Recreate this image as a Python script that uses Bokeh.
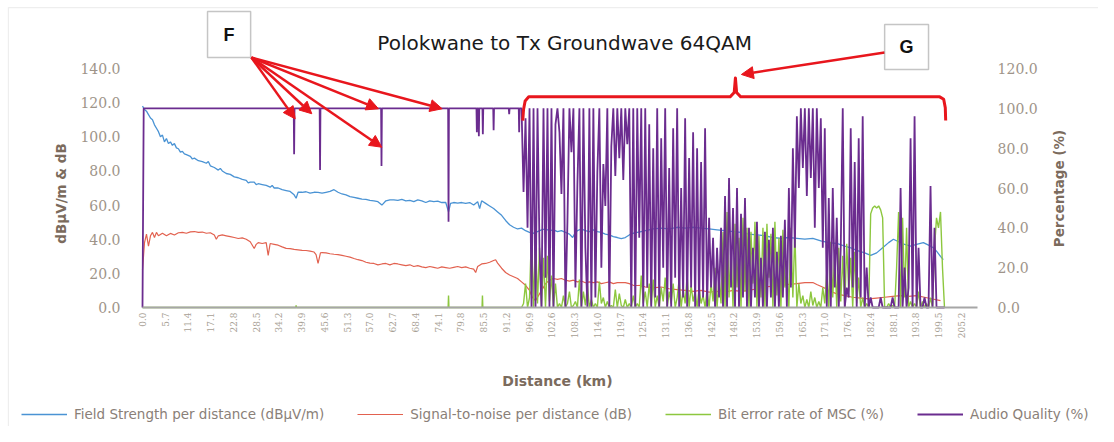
import math
from bokeh.plotting import figure
from bokeh.models import (Range1d, LinearAxis, FixedTicker, PrintfTickFormatter, Legend,
                          LegendItem, Label, Arrow, NormalHead, BoxAnnotation)
from bokeh.embed import file_html
from bokeh.resources import INLINE

# ---------------- data ----------------
X_TICKS = [0.0, 5.7, 11.4, 17.1, 22.8, 28.5, 34.2, 39.9, 45.6, 51.3, 57.0, 62.7, 68.4, 74.1,
           79.8, 85.5, 91.2, 96.9, 102.6, 108.3, 114.0, 119.7, 125.4, 131.1, 136.8, 142.5,
           148.2, 153.9, 159.6, 165.3, 171.0, 176.7, 182.4, 188.1, 193.8, 199.5, 205.2]
LEFT_TICKS = [0, 20, 40, 60, 80, 100, 120, 140]
RIGHT_TICKS = [0, 20, 40, 60, 80, 100, 120]

# Field strength (km, dBuV/m)
FIELD_STRENGTH = [
    (0, 118), (0.5, 116), (1, 115), (1.5, 113), (2, 111), (2.5, 110), (3, 107), (3.5, 105),
    (4, 103), (4.5, 100), (5, 101), (5.5, 97), (6, 99), (6.5, 96), (7, 97), (7.5, 95), (8, 96),
    (8.5, 93.5), (9, 93), (9.5, 91), (10, 91.5), (10.5, 90), (11, 89.5), (12, 88.5), (12.5, 87),
    (13, 87.5), (14, 86), (15, 85.5), (16, 84.5), (16.5, 85.5), (17, 83), (18, 82), (19, 80.5),
    (19.5, 81.5), (20, 80), (21, 78.5), (22, 78), (23, 76.5), (24, 76), (25, 75), (26, 74.5),
    (26.5, 73), (27, 73.5), (28, 73.5), (28.5, 72), (29, 72.5), (30, 72), (31, 71.5), (32, 70.5),
    (32.5, 71.5), (33, 70), (34, 70), (35, 69), (36, 68.5), (37, 68), (38, 66), (38.5, 64),
    (39, 67.5), (40, 67.5), (41, 67.8), (42, 67), (43, 67.5), (44, 67.4), (45, 67), (46, 67.5),
    (47, 68), (48, 69), (49, 67.5), (50, 66.5), (51, 66), (52, 65), (53, 64.5), (54, 64),
    (55, 63.5), (56, 63.3), (57, 62.7), (58, 62.5), (59, 62), (60, 60), (61, 62.5), (62, 63),
    (63, 63), (64, 62.8), (65, 63.3), (66, 62.5), (67, 62.8), (68, 62), (69, 63), (70, 62.5),
    (71, 61.5), (72, 62.5), (73, 62), (74, 62.3), (75, 61.5), (76, 61.5), (76.7, 56), (77.2, 61),
    (78, 61.5), (79, 61.2), (80, 61.5), (81, 61), (82, 61.5), (83, 60), (84, 62), (84.5, 58),
    (85, 62.5), (86, 61), (87, 59.5), (88, 58), (89, 56), (90, 54), (91, 51), (92, 48.5),
    (93, 47), (94, 46), (95, 46.5), (96, 45), (97, 44), (98, 43.5), (99, 44.5), (100, 45.5),
    (101, 46), (102, 45), (103, 45.5), (104, 44.5), (105, 45), (106, 44), (107, 43),
    (107.8, 41), (108.5, 44), (109, 45), (110, 46), (111, 45), (112, 44.5), (113, 45.5),
    (114, 44.5), (115, 44), (116, 43), (117, 42.5), (118, 41.5), (119, 41), (120, 40.4),
    (121, 41), (122, 42.5), (123, 43.5), (124, 44), (125, 44.5), (126, 45), (127, 45.5),
    (128, 46), (130, 46.5), (132, 46), (134, 47), (136, 46.5), (138, 47), (140, 46.5), (142, 46),
    (144, 45.5), (146, 45), (148, 44.5), (150, 44), (152, 43), (154, 42.5), (156, 42), (158, 41),
    (160, 40.5), (162, 41), (164, 40.5), (166, 40), (168, 40.5), (170, 39), (172, 38),
    (174, 37.5), (176, 36), (177.5, 35), (179, 33.5), (181, 32), (182.5, 30.5), (184, 32),
    (185.5, 35), (187, 38), (188.2, 40), (189.5, 38.5), (191, 37), (192.5, 36), (194, 37),
    (195.7, 38), (197, 36.5), (198.2, 35), (199, 33), (200, 30), (200.7, 28),
]

# Signal-to-noise (km, dB)
SIGNAL_TO_NOISE = [
    (0, 22), (0.5, 38), (1, 43), (1.5, 36), (2, 42), (2.5, 44), (3, 41), (3.5, 44), (4, 42),
    (5, 43.5), (6, 42), (7, 43.4), (8, 42.5), (9, 43.8), (10, 44), (11, 43.5), (12, 44.3),
    (13, 44.5), (14, 44), (15, 44.2), (16, 43.5), (17, 43.8), (18, 42.5), (18.5, 40), (19, 42),
    (20, 42.5), (21, 42), (22, 41.5), (23, 41), (24, 40.4), (25, 40.8), (26, 40), (27, 38.5),
    (28, 34.6), (28.5, 37), (29, 38), (30, 37.5), (31, 38), (31.5, 30.5), (32, 37.5), (33, 37),
    (34, 36.5), (35, 35.5), (36, 34.6), (37, 34.5), (38, 34), (39, 33.8), (40, 33.5),
    (41, 33.4), (42, 33), (43, 32.5), (43.5, 31), (44, 25.8), (44.6, 32), (45, 32.2), (46, 32),
    (47, 31.5), (48, 31.2), (49, 31), (50, 30.5), (51, 30), (52, 29.5), (53, 28.7), (54, 28),
    (55, 27.5), (56, 26.5), (57, 26), (58, 25.8), (59, 25), (60, 25.5), (61, 25.8), (62, 25),
    (63, 25.8), (64, 25.5), (65, 25), (66, 24.5), (67, 25), (68, 24), (69, 24.5), (70, 23.8),
    (71, 23.4), (72, 24), (73, 23.5), (74, 23), (75, 23.8), (76, 23.4), (77, 23), (78, 23.5),
    (79, 24), (80, 23.4), (81, 23.8), (82, 23), (83, 22.5), (83.5, 20.5), (84, 24), (85, 25.5),
    (86, 25.8), (87, 26.5), (88, 27.5), (88.5, 28), (89, 26), (90, 23), (91, 20.5), (92, 19),
    (93, 18), (94, 17), (95, 15), (96, 13), (97, 10), (97.7, 6), (98.5, 4), (99.5, 8),
    (100.3, 11), (101, 14), (102, 16), (103, 17), (104, 16.5), (105, 17), (106, 16),
    (107, 15.5), (108, 16), (109, 15), (110, 15.5), (111, 14.5), (112, 15), (113, 14.6),
    (114, 15), (115, 14), (116, 14.5), (117, 15), (118, 14), (119, 14.6), (120, 14.6),
    (121, 14.6), (122, 14), (123, 13), (124, 12.9), (125, 13), (126, 12), (128, 11.5),
    (130, 12), (132, 11), (134, 10.5), (136, 10), (138, 9.5), (140, 10), (142, 9), (144, 9.5),
    (146, 9), (148, 10), (150, 9.5), (152, 10), (154, 11), (156, 12), (158, 12.5), (160, 13),
    (162, 13.5), (164, 14), (166, 14.6), (168, 14.6), (169, 13.5), (170.7, 11.7), (172, 10),
    (174, 8), (176, 7), (178, 6), (180, 5.5), (182, 5), (184, 5.5), (186, 6), (188, 6.5),
    (190, 7), (192, 6.5), (194, 7), (196, 6), (198, 5), (200, 4),
]

# Audio quality (%) before the drop-out zone (km, %)
AUDIO_EARLY = [
    (0.0, 0), (0.3, 100), (37.9, 100), (38.0, 77), (38.1, 100), (44.4, 100), (44.5, 69),
    (44.6, 100), (59.8, 100), (59.9, 71), (60.0, 100), (76.6, 100), (76.7, 43), (76.8, 100),
    (83.7, 100), (83.8, 88), (83.9, 100), (84.2, 100), (84.3, 86), (84.4, 100), (85.2, 100),
    (85.3, 87), (85.4, 100), (87.9, 100), (88.0, 89), (88.1, 100), (91.8, 100), (91.9, 97),
    (92.0, 100), (94.3, 100), (94.4, 88), (94.5, 100),
]
# Bit error rate of MSC (%) before the drop-out zone (km, %)
BER_EARLY = [
    (0.0, 0), (38.4, 0), (38.5, 1), (38.6, 0), (76.6, 0), (76.7, 6), (76.8, 0), (85.1, 0),
    (85.2, 6), (85.3, 0), (94.5, 0),
]

# drop-out zone samples
DENSE_KM = [
    95.0, 95.5, 96.0, 96.5, 97.0, 97.5, 98.0, 98.5, 99.0, 99.5,
    100.0, 100.5, 101.0, 101.5, 102.0, 102.5, 103.0, 103.5, 104.0, 104.5,
    105.0, 105.5, 106.0, 106.5, 107.0, 107.5, 108.0, 108.5, 109.0, 109.5,
    110.0, 110.5, 111.0, 111.5, 112.0, 112.5, 113.0, 113.5, 114.0, 114.5,
    115.0, 115.5, 116.0, 116.5, 117.0, 117.5, 118.0, 118.5, 119.0, 119.5,
    120.0, 120.5, 121.0, 121.5, 122.0, 122.5, 123.0, 123.5, 124.0, 124.5,
    125.0, 125.5, 126.0, 126.5, 127.0, 127.5, 128.0, 128.5, 129.0, 129.5,
    130.0, 130.5, 131.0, 131.5, 132.0, 132.5, 133.0, 133.5, 134.0, 134.5,
    135.0, 135.5, 136.0, 136.5, 137.0, 137.5, 138.0, 138.5, 139.0, 139.5,
    140.0, 140.5, 141.0, 141.5, 142.0, 142.5, 143.0, 143.5, 144.0, 144.5,
    145.0, 145.5, 146.0, 146.5, 147.0, 147.5, 148.0, 148.5, 149.0, 149.5,
    150.0, 150.5, 151.0, 151.5, 152.0, 152.5, 153.0, 153.5, 154.0, 154.5,
    155.0, 155.5, 156.0, 156.5, 157.0, 157.5, 158.0, 158.5, 159.0, 159.5,
    160.0, 160.5, 161.0, 161.5, 162.0, 162.5, 163.0, 163.5, 164.0, 164.5,
    165.0, 165.5, 166.0, 166.5, 167.0, 167.5, 168.0, 168.5, 169.0, 169.5,
    170.0, 170.5, 171.0, 171.5, 172.0, 172.5, 173.0, 173.5, 174.0, 174.5,
    175.0, 175.5, 176.0, 176.5, 177.0, 177.5, 178.0, 178.5, 179.0, 179.5,
    180.0, 180.5, 181.0, 181.5, 182.0, 182.5, 183.0, 183.5, 184.0, 184.5,
    185.0, 185.5, 186.0, 186.5, 187.0, 187.5, 188.0, 188.5, 189.0, 189.5,
    190.0, 190.5, 191.0, 191.5, 192.0, 192.5, 193.0, 193.5, 194.0, 194.5,
    195.0, 195.5, 196.0, 196.5, 197.0, 197.5, 198.0, 198.5, 199.0, 199.5,
    200.0, 200.5, 201.0,
]
AUDIO_DENSE = [
    100, 58, 95, 40, 100, 0, 100, 0, 100, 30,
    0, 100, 15, 100, 0, 100, 0, 92, 100, 88,
    57, 100, 0, 43, 100, 78, 100, 10, 62, 100,
    0, 100, 30, 0, 100, 0, 100, 5, 68, 100,
    20, 72, 51, 100, 0, 81, 100, 66, 100, 75,
    100, 64, 100, 82, 100, 0, 100, 0, 100, 35,
    100, 0, 100, 10, 92, 0, 80, 5, 100, 0,
    85, 20, 100, 0, 70, 0, 90, 15, 100, 0,
    60, 5, 95, 0, 75, 10, 88, 0, 80, 0,
    73, 5, 90, 0, 45, 10, 35, 0, 30, 5,
    40, 0, 56, 0, 65, 10, 50, 0, 60, 0,
    47, 5, 55, 0, 40, 0, 30, 5, 43, 0,
    25, 0, 38, 0, 34, 5, 40, 0, 28, 0,
    36, 5, 44, 0, 60, 10, 80, 30, 96, 60,
    100, 70, 100, 56, 100, 65, 100, 40, 100, 60,
    95, 30, 90, 0, 55, 0, 60, 10, 45, 0,
    30, 100, 0, 10, 5, 90, 10, 73, 0, 85,
    5, 96, 0, 20, 0, 5, 0, 0, 0, 0,
    5, 0, 0, 0, 0, 0, 5, 0, 0, 0,
    60, 0, 20, 0, 10, 85, 0, 96, 0, 30,
    0, 0, 5, 0, 0, 61, 0, 40, 0, 0,
    0, 0, 0,
]
BER_DENSE = [
    0, 2, 12, 0, 5, 39, 0, 36, 2, 30,
    0, 25, 0, 26, 3, 16, 0, 12, 0, 2,
    0, 6, 0, 2, 8, 0, 1, 3, 0, 14,
    0, 8, 1, 11, 0, 4, 0, 2, 0, 13,
    2, 5, 0, 3, 0, 1, 0, 9, 0, 7,
    1, 0, 4, 0, 2, 0, 6, 0, 2, 0,
    16, 2, 8, 0, 12, 1, 14, 0, 6, 0,
    10, 3, 15, 0, 8, 2, 12, 0, 5, 14,
    0, 9, 2, 16, 0, 11, 3, 8, 0, 10,
    2, 6, 0, 9, 0, 12, 3, 20, 0, 15,
    2, 38, 0, 48, 5, 30, 0, 42, 10, 35,
    0, 45, 8, 40, 0, 38, 12, 43, 0, 36,
    5, 40, 0, 42, 15, 37, 0, 43, 6, 35,
    0, 39, 10, 20, 0, 40, 5, 38, 0, 12,
    2, 6, 0, 4, 0, 8, 1, 5, 0, 3,
    0, 10, 2, 18, 0, 33, 5, 28, 0, 30,
    3, 26, 0, 32, 8, 25, 0, 28, 2, 15,
    0, 5, 0, 2, 0, 47, 50, 51, 50, 51,
    49, 45, 0, 0, 2, 0, 1, 0, 20, 48,
    0, 45, 5, 40, 0, 3, 0, 2, 0, 8,
    0, 3, 0, 2, 0, 5, 0, 30, 45, 40,
    48, 20, 0,
]
assert len(DENSE_KM) == len(AUDIO_DENSE) == len(BER_DENSE), (len(DENSE_KM), len(AUDIO_DENSE), len(BER_DENSE))

FS_KM = [k for k, v in FIELD_STRENGTH]
FS_DB = [v for k, v in FIELD_STRENGTH]
SNR_KM = [k for k, v in SIGNAL_TO_NOISE]
SNR_DB = [v for k, v in SIGNAL_TO_NOISE]
AQ_KM = [k for k, v in AUDIO_EARLY] + DENSE_KM
AQ_PCT = [v for k, v in AUDIO_EARLY] + AUDIO_DENSE
BER_KM = [k for k, v in BER_EARLY] + DENSE_KM
BER_PCT = [v for k, v in BER_EARLY] + BER_DENSE

TITLE = "Polokwane to Tx Groundwave 64QAM"
X_TITLE = "Distance (km)"
LEFT_TITLE = "dB\u00b5V/m & dB"
RIGHT_TITLE = "Percentage (%)"
SERIES_NAMES = ["Field Strength per distance (dB\u00b5V/m)", "Signal-to-noise per distance (dB)",
                "Bit error rate of MSC (%)", "Audio Quality (%)"]

# ---------------- layout geometry ----------------
PX_PER_KM = 3.99          # horizontal scale
PX_PER_UNIT = 1.7071      # vertical scale (left axis units)
W, H = 1098, 426
X0_PX, Y0_PX = 142, 307   # canvas position of (0 km, 0)
AXIS_END_KM = 209.3       # right end of the plot area
X_START = -X0_PX / PX_PER_KM
X_END = (W - X0_PX) / PX_PER_KM
Y_TOP = Y0_PX / PX_PER_UNIT
Y_BOTTOM = -(H - Y0_PX) / PX_PER_UNIT
PCT = 120 / 140

# annotation geometry (km, left-axis units)
F_BOX = dict(left=16.3, right=27.1, bottom=146.4, top=173.4)
G_BOX = dict(left=186.0, right=197.0, bottom=139.4, top=165.8)
F_START = (27.3, 146.4)
F_TIPS = [(38.27, 110.5), (42.43, 113.5), (59.15, 116.4), (59.97, 93.9), (75.1, 116.4)]
G_START = (186.0, 149.4)
G_TIP = (150.1, 136.5)
BRACKET_X = [95.3, 95.5, 95.9, 96.8, 147.3, 148.3, 148.6, 148.9, 149.9, 199.8, 200.8, 201.2, 201.3]
BRACKET_Y = [109.5, 116, 121, 123.4, 123.4, 126, 134.5, 126, 123.4, 123.4, 122, 117, 109.5]
TITLE_POS = (105.8, 154.7)
X_TITLE_POS = (104.0, -42.8)
LEFT_TITLE_POS = (-20.55, 66.8)
RIGHT_TITLE_POS = (229.8, 69.7)
CHART_BORDER = dict(left=-33.6, top=175.7, right=X_END + 20, bottom=Y_BOTTOM - 20)

C_FS = "#4a93d4"
C_SNR = "#e2614f"
C_BER = "#8dc73f"
C_AQ = "#6b2c8f"
C_RED = "#e8161d"
TICK_COLOR = "#9e9489"
TITLE_COLOR = "#7b6b5d"

p = figure(width=W, height=H, x_range=Range1d(X_START, X_END), y_range=Range1d(Y_BOTTOM, Y_TOP),
           output_backend="svg", toolbar_location=None, tools="", title=None,
           min_border_left=0, min_border_right=0, min_border_top=0, min_border_bottom=0)
p.extra_y_ranges = {"pct": Range1d(Y_BOTTOM * PCT, Y_TOP * PCT)}
p.outline_line_color = None
p.xgrid.visible = False
p.ygrid.visible = False
p.background_fill_color = "white"
p.border_fill_color = "white"

# chart-area border (only its top and left edges fall inside the picture)
p.add_layout(BoxAnnotation(fill_alpha=0, line_color="#c8c8c8", line_width=1.2, **CHART_BORDER))

# x axis (drawn at y = 0 inside the full-size plot area)
xa = p.xaxis[0]
xa.fixed_location = 0
xa.bounds = (0, AXIS_END_KM)
xa.ticker = FixedTicker(ticks=X_TICKS)
xa.formatter = PrintfTickFormatter(format="%.1f")
xa.major_label_orientation = math.pi / 2
xa.major_label_text_font = "DejaVu Serif"
xa.major_label_text_font_size = "9px"
xa.major_label_text_color = "#a89f95"
xa.major_label_standoff = 5
xa.major_tick_out = 0
xa.major_tick_in = 0
xa.minor_tick_out = 0
xa.minor_tick_in = 0
xa.axis_line_color = "#a6a6a6"
xa.axis_line_width = 2

def style_y(ax, standoff):
    ax.formatter = PrintfTickFormatter(format="%.1f")
    ax.major_label_text_font = "DejaVu Serif"
    ax.major_label_text_font_size = "14px"
    ax.major_label_text_color = TICK_COLOR
    ax.major_label_standoff = standoff
    ax.major_tick_out = 0
    ax.major_tick_in = 0
    ax.minor_tick_out = 0
    ax.minor_tick_in = 0
    ax.axis_line_color = None

ya = p.yaxis[0]
ya.fixed_location = 0
ya.bounds = (0, 140)
ya.ticker = FixedTicker(ticks=LEFT_TICKS)
style_y(ya, 22)

yr = LinearAxis(y_range_name="pct", ticker=FixedTicker(ticks=RIGHT_TICKS), bounds=(0, 120))
yr.fixed_location = AXIS_END_KM
style_y(yr, 20)
p.add_layout(yr, "right")

# axis titles
def axis_title(pos, text, angle, size):
    p.add_layout(Label(x=pos[0], y=pos[1], text=text, angle=angle, text_align="center",
                       text_baseline="middle", text_font="DejaVu Sans", text_font_size=size,
                       text_font_style="bold", text_color=TITLE_COLOR))

axis_title(X_TITLE_POS, X_TITLE, 0, "14px")
axis_title(LEFT_TITLE_POS, LEFT_TITLE, math.pi / 2, "13.5px")
axis_title(RIGHT_TITLE_POS, RIGHT_TITLE, math.pi / 2, "13.5px")

# series
r_fs = p.line(FS_KM, FS_DB, line_color=C_FS, line_width=1.3)
r_snr = p.line(SNR_KM, SNR_DB, line_color=C_SNR, line_width=1.2)
r_ber = p.line(BER_KM, BER_PCT, y_range_name="pct", line_color=C_BER, line_width=1.4)
r_aq = p.line(AQ_KM, AQ_PCT, y_range_name="pct", line_color=C_AQ, line_width=1.8)

legend = Legend(items=[LegendItem(label=SERIES_NAMES[0], renderers=[r_fs]),
                       LegendItem(label=SERIES_NAMES[1], renderers=[r_snr]),
                       LegendItem(label=SERIES_NAMES[2], renderers=[r_ber]),
                       LegendItem(label=SERIES_NAMES[3], renderers=[r_aq])],
                orientation="horizontal", location=(21, 4),
                label_text_font="DejaVu Sans", label_text_font_size="13.5px",
                label_text_color="#8a8078", glyph_width=46, glyph_height=16, label_height=16,
                label_standoff=7, spacing=33, padding=4, margin=0,
                border_line_color=None, background_fill_alpha=0)
p.add_layout(legend)

# title
p.add_layout(Label(x=TITLE_POS[0], y=TITLE_POS[1], text=TITLE, text_align="center",
                   text_baseline="middle", text_font="DejaVu Sans", text_font_size="20px",
                   text_color="#1a1a1a"))

# annotations: arrows, bracket, boxes
head = dict(size=12, fill_color=C_RED, line_color=C_RED)
for tx, ty in F_TIPS:
    p.add_layout(Arrow(end=NormalHead(**head), x_start=F_START[0], y_start=F_START[1],
                       x_end=tx, y_end=ty, line_color=C_RED, line_width=2.5))
p.add_layout(Arrow(end=NormalHead(**head), x_start=G_START[0], y_start=G_START[1],
                   x_end=G_TIP[0], y_end=G_TIP[1], line_color=C_RED, line_width=2.5))
p.line(BRACKET_X, BRACKET_Y, line_color=C_RED, line_width=3, line_join="round")

for box, letter in ((F_BOX, "F"), (G_BOX, "G")):
    p.add_layout(BoxAnnotation(fill_color="white", fill_alpha=1, line_color="#404040",
                               line_width=1.5, **box))
    p.add_layout(Label(x=(box["left"] + box["right"]) / 2, y=(box["bottom"] + box["top"]) / 2,
                       text=letter, text_align="center", text_baseline="middle",
                       text_font="Liberation Sans", text_font_style="bold",
                       text_font_size="18px", text_color="#111111"))

open("out.html", "w").write(file_html(p, INLINE))
